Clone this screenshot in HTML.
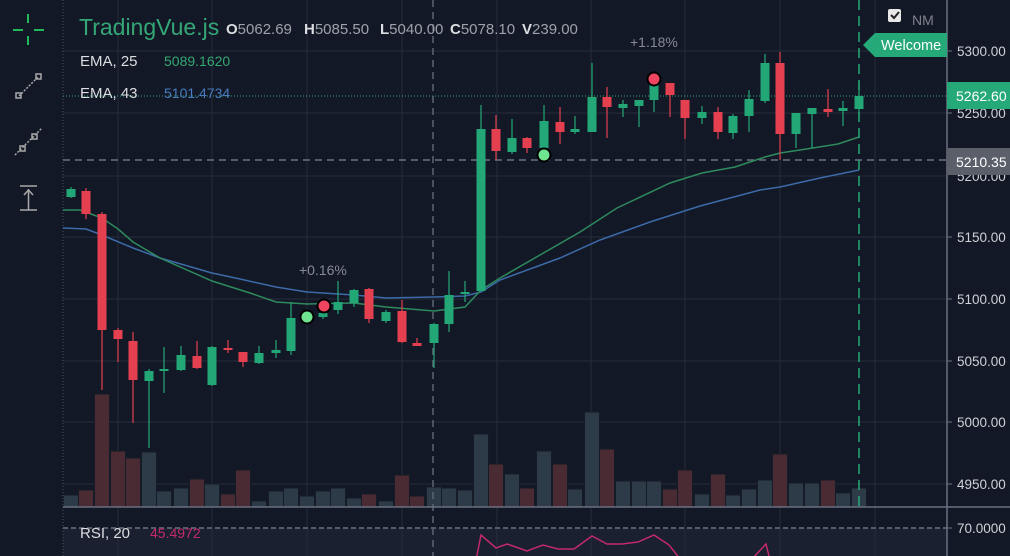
<!DOCTYPE html>
<html><head><meta charset="utf-8"><style>
html,body{margin:0;padding:0;background:#121826;width:1010px;height:556px;overflow:hidden}
svg{display:block;font-family:"Liberation Sans",sans-serif}
</style></head><body>
<svg id="c" width="1010" height="556" xmlns="http://www.w3.org/2000/svg">
<rect width="1010" height="556" fill="#121826"/>
<rect x="63" y="528" width="884" height="28" fill="#1b2030"/>
<g id="grid" stroke="#252b3a" stroke-width="1"></g>
<g id="vol"></g>
<line x1="63" y1="0" x2="63" y2="556" stroke="#4a5060" stroke-dasharray="1,2"/>
<line x1="433" y1="0" x2="433" y2="556" stroke="#5d6573" stroke-width="1.5" stroke-dasharray="7,5"/>
<line x1="63" y1="160" x2="947" y2="160" stroke="#6b7280" stroke-width="1.5" stroke-dasharray="7,5"/>
<line x1="63" y1="96" x2="947" y2="96" stroke="#2fa574" stroke-width="1" stroke-dasharray="1,2"/>
<polyline fill="none" stroke="#3d6aa8" stroke-width="1.5" points="63,228 86,229 102,235 133,248 160,258 212,273 240,279 276,287 307,292 354,295 386,298 434,297 465,296 481,292 500,280 560,258 600,240 650,222 700,206 760,190 780,187 820,178 859,170"/>
<polyline fill="none" stroke="#2f8a5e" stroke-width="1.5" points="63,210 80,210 102,218 118,229 133,242 160,258 212,281 250,293 276,302 307,304 354,303 386,307 434,311 465,307 481,290 500,278 540,255 580,232 617,208 670,183 702,173 735,167 765,157 780,153 800,150 838,144 859,137"/>
<g id="cdl"></g>
<line x1="859" y1="0" x2="859" y2="507" stroke="#26a978" stroke-width="1.5" stroke-dasharray="10,6"/>
<line x1="63" y1="507" x2="1010" y2="507" stroke="#6b7080" stroke-width="1.5"/>
<line x1="63" y1="528" x2="947" y2="528" stroke="#555b68" stroke-width="2" stroke-dasharray="5,3"/>
<polyline fill="none" stroke="#c22a6b" stroke-width="1.5" points="476,560 481,535 496,548 507,544 527,551 543,545 558,549 574,549 592,536 607,544 622,544 638,542 654,535 669,545 681,560"/>
<polyline fill="none" stroke="#c22a6b" stroke-width="1.5" points="751,560 766,544 770,560"/>
<circle cx="307" cy="317" r="6.5" fill="#6ee58e" stroke="#000" stroke-width="2"/>
<circle cx="324" cy="306" r="6.5" fill="#ef4560" stroke="#000" stroke-width="2"/>
<circle cx="544" cy="155" r="6.5" fill="#6ee58e" stroke="#000" stroke-width="2"/>
<circle cx="654" cy="79" r="6.5" fill="#ef4560" stroke="#000" stroke-width="2"/>
<text x="299" y="275" fill="#858a95" font-size="14">+0.16%</text>
<text x="630" y="47" fill="#858a95" font-size="14">+1.18%</text>
<line x1="947" y1="0" x2="947" y2="556" stroke="#6b7080" stroke-width="1.5"/>
<g fill="#cfd1d6" font-size="13.5" id="ax">
<text x="957" y="56">5300.00</text><text x="957" y="118">5250.00</text><text x="957" y="181">5200.00</text>
<text x="957" y="242">5150.00</text><text x="957" y="304">5100.00</text><text x="957" y="366">5050.00</text>
<text x="957" y="427">5000.00</text><text x="957" y="489">4950.00</text><text x="957" y="533">70.0000</text>
</g>
<g stroke="#6b7080"><line x1="947" y1="51" x2="952" y2="51"/><line x1="947" y1="113" x2="952" y2="113"/><line x1="947" y1="237" x2="952" y2="237"/><line x1="947" y1="299" x2="952" y2="299"/><line x1="947" y1="361" x2="952" y2="361"/><line x1="947" y1="422" x2="952" y2="422"/><line x1="947" y1="484" x2="952" y2="484"/><line x1="947" y1="528" x2="952" y2="528"/></g>
<rect x="947" y="82" width="63" height="27" fill="#26a978"/>
<text x="956" y="101" fill="#ffffff" font-size="14">5262.60</text>
<rect x="947" y="148" width="63" height="27" fill="#5a5f6a"/>
<text x="956" y="167" fill="#ffffff" font-size="14">5210.35</text>
<polygon points="863,45 875,33 947,33 947,57 875,57" fill="#26a978"/>
<text x="881" y="50" fill="#ffffff" font-size="14.5">Welcome</text>
<rect x="888" y="9" width="13" height="13" rx="2" fill="#e8e8e8"/>
<path d="M891 15 l3 3 l5 -6" stroke="#222" stroke-width="2" fill="none"/>
<text x="912" y="25" fill="#7d828c" font-size="14">NM</text>
<text x="79" y="35" fill="#35a776" font-size="23">TradingVue.js</text>
<g font-size="15" fill="#9ea2aa">
<text x="226" y="34"><tspan fill="#dcdde0" font-weight="bold">O</tspan>5062.69</text>
<text x="304" y="34"><tspan fill="#dcdde0" font-weight="bold">H</tspan>5085.50</text>
<text x="380" y="34"><tspan fill="#dcdde0" font-weight="bold">L</tspan>5040.00</text>
<text x="450" y="34"><tspan fill="#dcdde0" font-weight="bold">C</tspan>5078.10</text>
<text x="522" y="34"><tspan fill="#dcdde0" font-weight="bold">V</tspan>239.00</text>
</g>
<text x="80" y="66" fill="#dcdde0" font-size="15">EMA, 25</text>
<text x="164" y="66" fill="#34a873" font-size="14">5089.1620</text>
<text x="80" y="98" fill="#dcdde0" font-size="15">EMA, 43</text>
<text x="164" y="98" fill="#4a7cc0" font-size="14">5101.4734</text>
<text x="80" y="538" fill="#dcdde0" font-size="15">RSI, 20</text>
<text x="150" y="538" fill="#c22a6b" font-size="14">45.4972</text>
<g stroke="#1fb85a" stroke-width="2"><line x1="13" y1="30" x2="23" y2="30"/><line x1="34" y1="30" x2="44" y2="30"/><line x1="28" y1="14" x2="28" y2="23"/><line x1="28" y1="36" x2="28" y2="45"/></g>
<g stroke="#a8a8a8" stroke-width="1.5" fill="none">
<line x1="19" y1="96" x2="38" y2="77" stroke-dasharray="2,1.5"/><rect x="16" y="93" width="5" height="5"/><rect x="36" y="74" width="5" height="5"/>
<line x1="15" y1="155" x2="42" y2="128" stroke-dasharray="2,1.5"/><rect x="20" y="146" width="5" height="5"/><rect x="32" y="134" width="5" height="5"/>
<line x1="20" y1="186" x2="37" y2="186"/><line x1="20" y1="210" x2="37" y2="210"/><line x1="28.5" y1="189" x2="28.5" y2="210"/><path d="M24 195 l4.5 -5 l4.5 5"/>
</g>
</svg>
<script>
var NS="http://www.w3.org/2000/svg";
function el(p,t,a){var e=document.createElementNS(NS,t);for(var k in a)e.setAttribute(k,a[k]);p.appendChild(e);return e;}
var g=document.getElementById('grid');
[51,113,176,237,299,361,422,484].forEach(function(y){el(g,'line',{x1:63,y1:y,x2:947,y2:y});});
[118,212,307,402,497,591,685,780,875].forEach(function(x){el(g,'line',{x1:x,y1:0,x2:x,y2:556});});
var xs=[71,86,102,118,133,149,164,181,197,212,228,243,259,276,291,307,323,338,354,369,386,402,417,434,449,465,481,496,512,527,544,560,575,592,607,623,639,654,670,685,702,718,733,749,765,780,796,812,828,843,859];
var C=[
['g',189,197,187,198],['r',191,214,188,219],['r',214,330,212,390],['r',330,339,328,362],['r',341,380,332,423],
['g',371,381,369,448],['g',369,371,347,393],['g',355,370,346,371],['r',356,368,341,369],['g',347,385,346,386],
['r',348,350,340,353],['r',352,362,352,367],['g',353,363,346,364],['g',350,353,340,358],['g',318,351,302,355],
['g',314,320,310,322],['g',313,317,311,319],['g',302,310,281,314],['g',290,303,289,307],['r',289,319,288,323],
['g',312,321,310,323],['r',311,342,300,343],['r',343,346,338,346],['g',324,343,323,368],['g',295,324,271,332],
['g',292,294,281,302],['g',129,291,105,291],['r',129,151,115,160],['g',138,152,119,154],['r',138,148,137,153],
['g',121,148,105,150],['r',122,132,107,144],['g',129,132,116,134],['g',97,132,63,132],['r',97,107,87,138],
['g',104,108,100,117],['g',100,106,100,127],['g',85,100,80,112],['r',83,95,83,117],['r',100,118,100,139],
['g',112,118,106,124],['r',112,132,107,139],['g',116,133,114,139],['g',99,116,90,132],['g',63,101,54,103],
['r',63,134,52,160],['g',113,134,113,148],['g',108,114,108,148],['r',109,112,89,117],['g',108,111,101,126],['g',96,109,82,117]];
var V=[['g',495],['r',490],['r',394],['r',451],['r',458],['g',452],['g',491],['g',488],['r',479],['g',484],['r',494],['r',470],['g',501],['g',491],['g',488],['g',496],['g',491],['g',488],['g',498],['r',494],['g',501],['r',475],['r',496],['g',487],['g',488],['g',490],['g',434],['r',464],['g',474],['r',488],['g',451],['r',464],['g',489],['g',412],['r',449],['g',481],['g',481],['g',481],['r',489],['r',470],['g',494],['r',474],['g',495],['g',489],['g',480],['r',454],['g',483],['g',483],['r',480],['g',493],['g',488]];
var vg=document.getElementById('vol'),cg=document.getElementById('cdl');
xs.forEach(function(x,i){
 var v=V[i];el(vg,'rect',{x:x-7.5,y:v[1],width:15,height:507-v[1],fill:v[0]=='g'?'#2c3b47':'#4a2a33',stroke:'#151b27','stroke-width':1});
 var c=C[i],col=c[0]=='g'?'#23a776':'#e5404f';
 el(cg,'line',{x1:x,y1:c[3],x2:x,y2:c[4],stroke:col,'stroke-width':1.2});
 el(cg,'rect',{x:x-4.5,y:c[1],width:9,height:Math.max(2,c[2]-c[1]),fill:col});
});
</script>
</body></html>
